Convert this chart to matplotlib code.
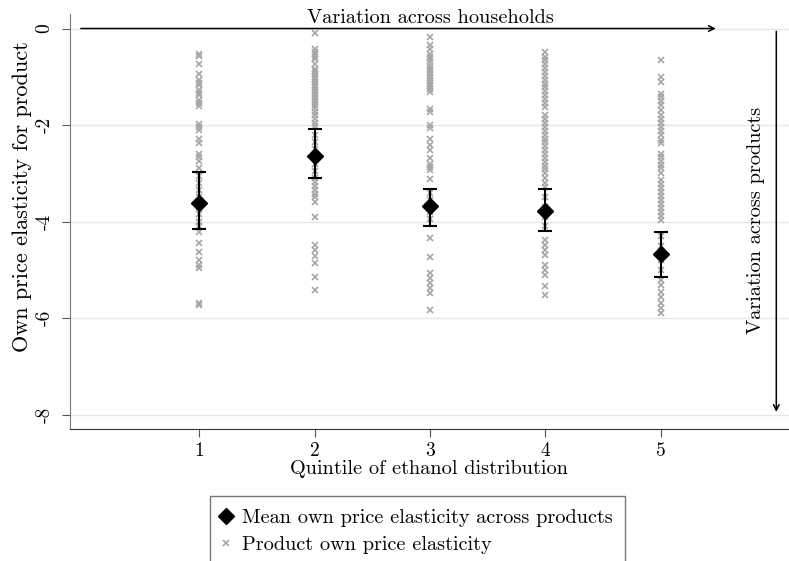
import matplotlib
matplotlib.use("Agg")
import matplotlib.pyplot as plt
from matplotlib.lines import Line2D

plt.rcParams['font.family'] = ['cmr10', 'DejaVu Serif']
plt.rcParams['axes.unicode_minus'] = False
plt.rcParams['mathtext.fontset'] = 'cm'

# quintiles and summary stats
quintiles = [1, 2, 3, 4, 5]
mean_elast = [-3.62, -2.64, -3.68, -3.79, -4.67]
ci_low = [-4.16, -3.09, -4.10, -4.19, -5.14]
ci_high = [-2.97, -2.09, -3.33, -3.33, -4.21]

# product-level elasticities
q1 = [-0.52, -0.56, -0.73, -0.94, -1.07, -1.12, -1.18, -1.28, -1.33, -1.38, -1.49, -1.55,
      -1.61, -1.97, -2.04, -2.11, -2.28, -2.38, -2.59, -2.66, -2.74, -2.90, -3.05, -3.2,
      -3.35, -3.5, -3.7, -3.85, -4.0, -4.1, -4.21, -4.45, -4.62, -4.79, -4.90, -4.97,
      -5.68, -5.72]
q2 = [-0.10, -0.42, -0.48, -0.52, -0.58, -0.63, -0.73, -0.83, -0.88, -0.94, -1.0, -1.05,
      -1.1, -1.16, -1.22, -1.28, -1.33, -1.4, -1.46, -1.52, -1.58, -1.65, -1.72, -1.8,
      -1.88, -1.95, -2.02, -2.2, -2.35, -2.5, -2.8, -2.95, -3.1, -3.18, -3.26, -3.34,
      -3.42, -3.49, -3.59, -3.90, -4.48, -4.59, -4.72, -4.86, -5.14, -5.41]
q3 = [-0.17, -0.35, -0.42, -0.52, -0.58, -0.64, -0.7, -0.77, -0.83, -0.9, -0.96, -1.02,
      -1.08, -1.14, -1.2, -1.26, -1.32, -1.66, -1.73, -2.0, -2.07, -2.28, -2.42, -2.52,
      -2.69, -2.80, -2.87, -2.93, -3.11, -3.4, -3.55, -3.8, -3.95, -4.35, -4.74, -5.07,
      -5.17, -5.28, -5.38, -5.48, -5.83]
q4 = [-0.49, -0.59, -0.66, -0.74, -0.82, -0.9, -0.98, -1.06, -1.14, -1.22, -1.3, -1.38,
      -1.46, -1.54, -1.62, -1.8, -1.88, -1.96, -2.04, -2.12, -2.2, -2.28, -2.36, -2.44,
      -2.52, -2.6, -2.68, -2.76, -2.84, -2.92, -3.0, -3.1, -3.2, -3.28, -3.5, -3.7,
      -3.9, -4.1, -4.38, -4.48, -4.59, -4.69, -4.90, -5.0, -5.10, -5.34, -5.52]
q5 = [-0.66, -1.0, -1.11, -1.35, -1.42, -1.5, -1.58, -1.69, -1.8, -1.88, -1.96, -2.04,
      -2.12, -2.2, -2.3, -2.38, -2.59, -2.66, -2.74, -2.82, -2.9, -3.0, -3.14, -3.22,
      -3.3, -3.38, -3.46, -3.55, -3.63, -3.72, -3.8, -3.88, -3.97, -4.3, -4.5, -4.8,
      -5.0, -5.21, -5.32, -5.45, -5.56, -5.68, -5.78, -5.89]
products = [q1, q2, q3, q4, q5]

fig = plt.figure(figsize=(7.89, 5.61), dpi=100)
ax = fig.add_axes([0.0887, 0.235, 0.9113, 0.740])

grey = '#a6a6a6'
for q, vals in zip(quintiles, products):
    ax.plot([q] * len(vals), vals, linestyle='none', marker='x', ms=4, mew=1.2,
            color=grey, zorder=2)

yerr = [[m - lo for m, lo in zip(mean_elast, ci_low)],
        [hi - m for m, hi in zip(mean_elast, ci_high)]]
ax.errorbar(quintiles, mean_elast, yerr=yerr, fmt='none', ecolor='black',
            elinewidth=1.5, capsize=5, capthick=1.5, zorder=3)
ax.plot(quintiles, mean_elast, linestyle='none', marker='D', ms=8, color='black', zorder=4)

# arrows and annotations
ax.annotate('', xy=(5.5, 0), xytext=(-0.05, 0),
            arrowprops=dict(arrowstyle='->', color='black', lw=1.1))
ax.annotate('', xy=(6.0, -8.0), xytext=(6.0, 0),
            arrowprops=dict(arrowstyle='->', color='black', lw=1.1))
ax.text(3.0, 0.22, 'Variation across households', ha='center', va='center', fontsize=14.6)
ax.text(5.82, -3.97, 'Variation across products', ha='center', va='center',
        rotation=90, fontsize=14.6)

ax.set_xlim(-0.12, 6.11)
ax.set_ylim(-8.3, 0.3)
ax.set_xticks(quintiles)
ax.set_xticklabels([str(q) for q in quintiles])
yticks = [0, -2, -4, -6, -8]
ax.set_yticks(yticks)
ax.set_yticklabels([str(t) for t in yticks], rotation=90, va='center')
ax.tick_params(axis='both', labelsize=14, length=6, color='#555555')
ax.tick_params(axis='y', pad=6)
ax.grid(axis='y', color='#e6e6e6', lw=1)
ax.set_axisbelow(True)
for s in ['top', 'right']:
    ax.spines[s].set_visible(False)
ax.spines['left'].set_color('#777777')
ax.spines['bottom'].set_color('#333333')

ax.set_xlabel('Quintile of ethanol distribution', fontsize=14.6, labelpad=0)
ax.set_ylabel('Own price elasticity for product', fontsize=16, va='center')
ax.yaxis.set_label_coords(-0.066, 0.561)

handles = [Line2D([], [], linestyle='none', marker='D', ms=8, color='black'),
           Line2D([], [], linestyle='none', marker='x', ms=4, mew=1.2, color=grey)]
labels = ['Mean own price elasticity across products', 'Product own price elasticity']
fig.legend(handles, labels, loc='upper left', bbox_to_anchor=(0.266, 0.115),
           fontsize=14.6, frameon=True, fancybox=False, edgecolor='#555555',
           handlelength=0.35, handletextpad=0.65, borderpad=0.6, labelspacing=0.45,
           borderaxespad=0)

fig.savefig('out.png', dpi=100)
